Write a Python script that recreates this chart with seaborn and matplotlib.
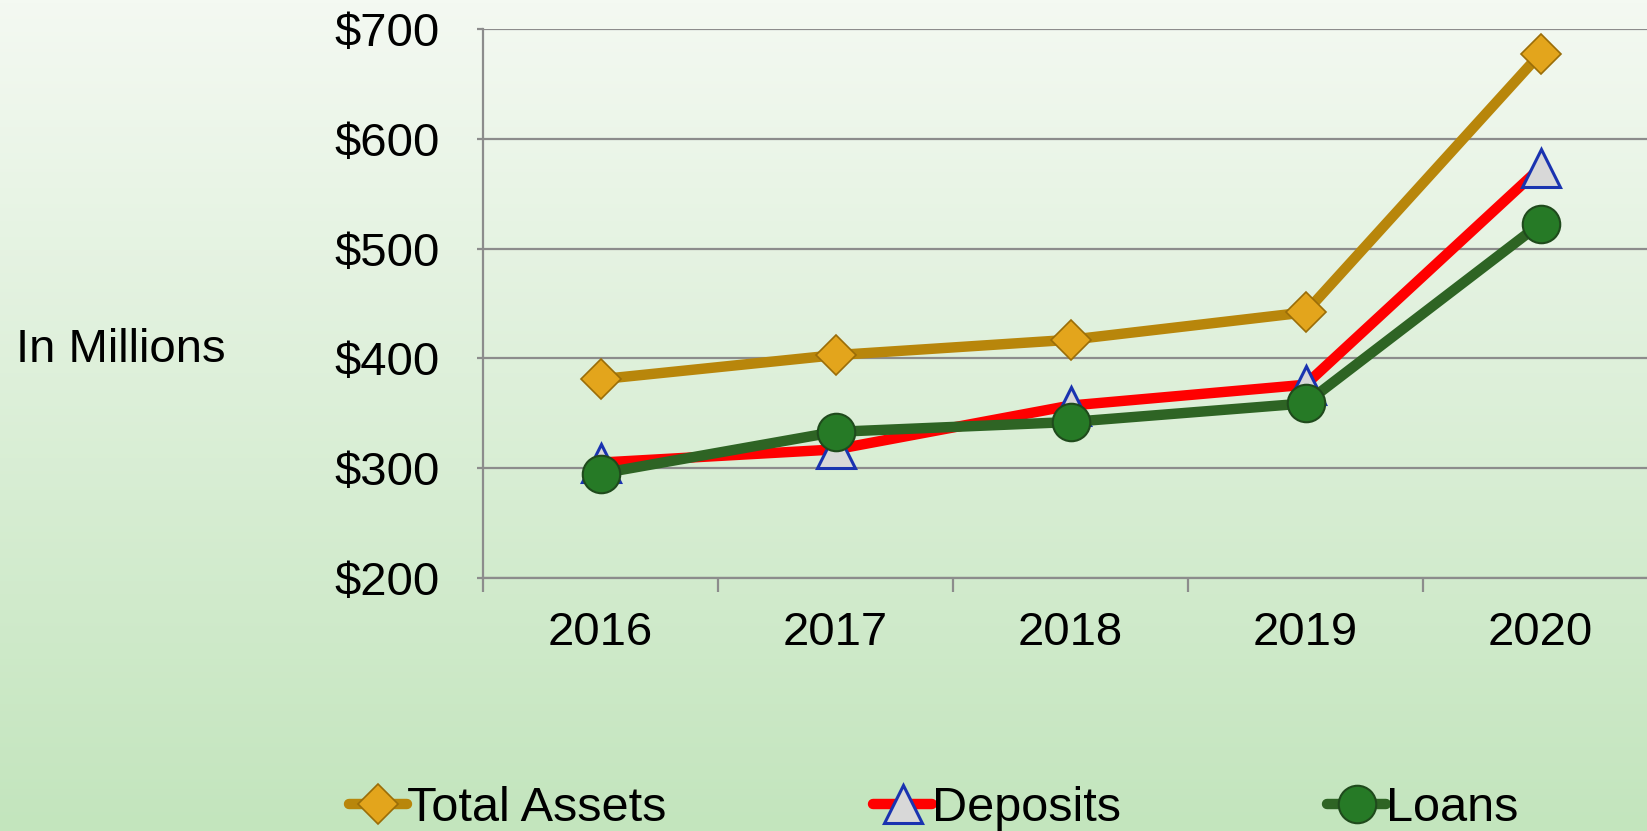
import numpy as np
import pandas as pd
import matplotlib
matplotlib.use("Agg")
import matplotlib.pyplot as plt
import seaborn as sns
from matplotlib.colors import LinearSegmentedColormap

years = ["2016", "2017", "2018", "2019", "2020"]
total_assets = [381, 403, 417, 442, 678]
deposits = [305, 317, 357, 376, 574]
loans = [295, 333, 342, 359, 523]
y_ticks = [200, 300, 400, 500, 600, 700]
y_tick_labels = ["$200", "$300", "$400", "$500", "$600", "$700"]

sns.set_theme(style="white")
plt.rcParams["font.family"] = ["Liberation Sans", "DejaVu Sans"]
plt.rcParams["text.color"] = "black"

fig = plt.figure(figsize=(16.47, 8.31), dpi=100)

# gradient background
bg = fig.add_axes([0, 0, 1, 1], zorder=-10)
grad = np.linspace(0, 1, 256).reshape(-1, 1)
cmap = LinearSegmentedColormap.from_list("bg", ["#f4f9f2", "#c3e5bd"])
bg.imshow(grad, aspect="auto", cmap=cmap, extent=[0, 1, 0, 1], origin="upper")
bg.set_axis_off()

ax = fig.add_axes([0.2933, 0.3048, 0.7134, 0.6598])
ax.patch.set_alpha(0)

df = pd.DataFrame({"Year": years, "idx": range(len(years)),
                   "Total Assets": total_assets, "Deposits": deposits, "Loans": loans})

styles = {
    "Total Assets": dict(color="#b8860b", marker="D", markersize=20,
                         markerfacecolor="#e3a51c", markeredgecolor="#9a6d08", markeredgewidth=1.2),
    "Deposits": dict(color="#ff0000", marker="^", markersize=27,
                     markerfacecolor="#d8d8d8", markeredgecolor="#1a33b0", markeredgewidth=2.2),
    "Loans": dict(color="#2e6424", marker="o", markersize=27,
                  markerfacecolor="#267a26", markeredgecolor="#1f4a1c", markeredgewidth=1.5),
}

for i, (name, st) in enumerate(styles.items()):
    sns.lineplot(data=df, x="idx", y=name, ax=ax, label=name, linewidth=7.5,
                 zorder=3 + i, **st)

ax.set_xlim(-0.5, len(years) - 0.5)
ax.set_ylim(200, 700)
ax.set_yticks(y_ticks)
ax.set_yticklabels(y_tick_labels)
ax.set_xticks(range(len(years)))
ax.set_xticklabels(years)
ax.set_xticks(np.arange(-0.5, len(years), 1.0), minor=True)
ax.set_xlabel("")
ax.set_ylabel("")

ax.grid(axis="y", color="#8c8c8c", linewidth=1.6)
ax.grid(axis="x", visible=False)
ax.set_axisbelow(True)

for s in ["top", "right"]:
    ax.spines[s].set_visible(False)
for s in ["left", "bottom"]:
    ax.spines[s].set_color("#8c8c8c")
    ax.spines[s].set_linewidth(1.6)

ax.tick_params(axis="x", which="major", length=0, pad=24, labelsize=34, labelcolor="black")
ax.tick_params(axis="x", which="minor", length=10, width=1.6, color="#8c8c8c", direction="out", bottom=True)
ax.tick_params(axis="y", length=4, width=1.6, color="#8c8c8c", pad=27, labelsize=34,
               labelcolor="black", left=True)

fig.text(0.0097, 0.579, "In Millions", fontsize=34, va="center", ha="left", color="black")

if ax.legend_:
    ax.legend_.remove()
handles, labels = ax.get_legend_handles_labels()
fig.legend(handles, labels, loc="center left", bbox_to_anchor=(0.212, 0.027), ncol=3,
           frameon=False, fontsize=35, handlelength=1.2, handletextpad=0.0,
           columnspacing=4.25, borderaxespad=0, borderpad=0, labelcolor="black")

fig.savefig("out.png", dpi=100)
